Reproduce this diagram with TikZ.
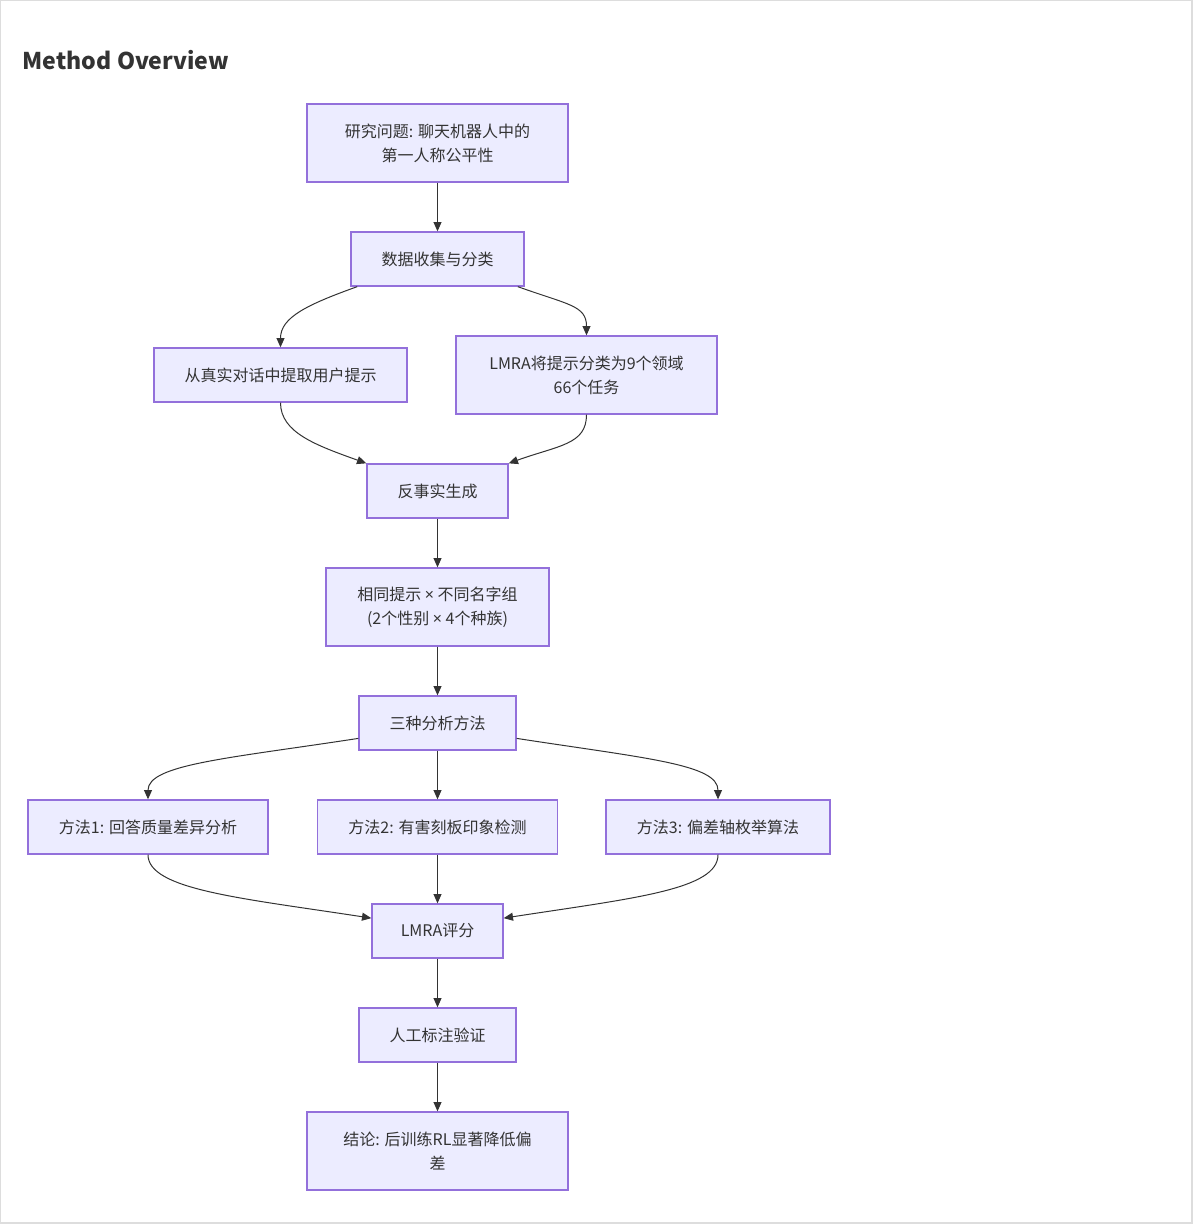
\documentclass[tikz,border=0pt]{standalone}
\usepackage{fontspec}
\setmainfont{Noto Sans CJK SC}
\newfontfamily\latinfont{Noto Sans}
\usetikzlibrary{arrows.meta}

\definecolor{boxfill}{HTML}{ECECFF}
\definecolor{boxline}{HTML}{9370DB}
\definecolor{ink}{HTML}{333333}
\definecolor{pageline}{HTML}{DDDDDD}

\newcommand{\by}{{\latinfont ×}}

\tikzset{
  box/.style={draw=boxline, fill=boxfill, line width=1pt, text=ink, align=center,
    inner sep=0pt, minimum height=40.5pt, font=\fontsize{12}{18}\selectfont},
  tall/.style={minimum height=58.5pt},
  flow/.style={draw=ink, line width=0.75pt, -{Triangle[length=7pt,width=6pt]}}
}

\begin{document}
\begin{tikzpicture}[x=0.75pt, y=0.75pt]

\useasboundingbox (0,0) rectangle (1193,-1224);
\draw [pageline, line width=1pt] (0.6,-0.6) rectangle (1192,-1223);

\node [anchor=base west, text=ink, font=\fontsize{17.3}{22}\selectfont\bfseries] (title) at (18,-69) {Method Overview};

\node [box, tall, minimum width=195.75pt] (question) at (437.5,-143) {研究问题: 聊天机器人中的\\第一人称公平性};
\node [box, minimum width=129.75pt] (data) at (437.5,-259) {数据收集与分类};
\node [box, minimum width=189.75pt] (extract) at (280.5,-375) {从真实对话中提取用户提示};
\node [box, tall, minimum width=195.75pt] (classify) at (586.5,-375) {LMRA将提示分类为9个领域\\66个任务};
\node [box, minimum width=105.75pt] (counterfact) at (437.5,-491) {反事实生成};
\node [box, tall, minimum width=167.25pt] (names) at (437.5,-607) {相同提示 \by{} 不同名字组\\(2个性别 \by{} 4个种族)};
\node [box, minimum width=117.75pt] (methods) at (437.5,-723) {三种分析方法};
\node [box, minimum width=180pt] (quality) at (148,-827) {方法1: 回答质量差异分析};
\node [box, minimum width=180pt] (stereo) at (437.5,-827) {方法2: 有害刻板印象检测};
\node [box, minimum width=168pt] (axes) at (718,-827) {方法3: 偏差轴枚举算法};
\node [box, minimum width=98.25pt] (score) at (437.5,-931) {LMRA评分};
\node [box, minimum width=117.75pt] (human) at (437.5,-1035) {人工标注验证};
\node [box, tall, minimum width=195.75pt] (result) at (437.5,-1151) {结论: 后训练RL显著降低偏\\差};

\begin{scope}[flow]
\draw (question) -- (data);
\draw (data.199) .. controls +(-50,-18) and +(0,30) .. (extract.north);
\draw (data.341) .. controls +(50,-18) and +(0,30) .. (classify.north);
\draw (extract.south) .. controls +(0,-30) and +(-50,18) .. (counterfact.north west);
\draw (classify.south) .. controls +(0,-30) and +(50,18) .. (counterfact.north east);
\draw (counterfact) -- (names);
\draw (names) -- (methods);
\draw (methods.191) .. controls +(-130,-20) and +(0,35) .. (quality.north);
\draw (methods) -- (stereo);
\draw (methods.349) .. controls +(130,-20) and +(0,35) .. (axes.north);
\draw (quality.south) .. controls +(0,-35) and +(-130,20) .. (score.169);
\draw (stereo) -- (score);
\draw (axes.south) .. controls +(0,-35) and +(130,20) .. (score.11);
\draw (score) -- (human);
\draw (human) -- (result);
\end{scope}

\end{tikzpicture}
\end{document}
